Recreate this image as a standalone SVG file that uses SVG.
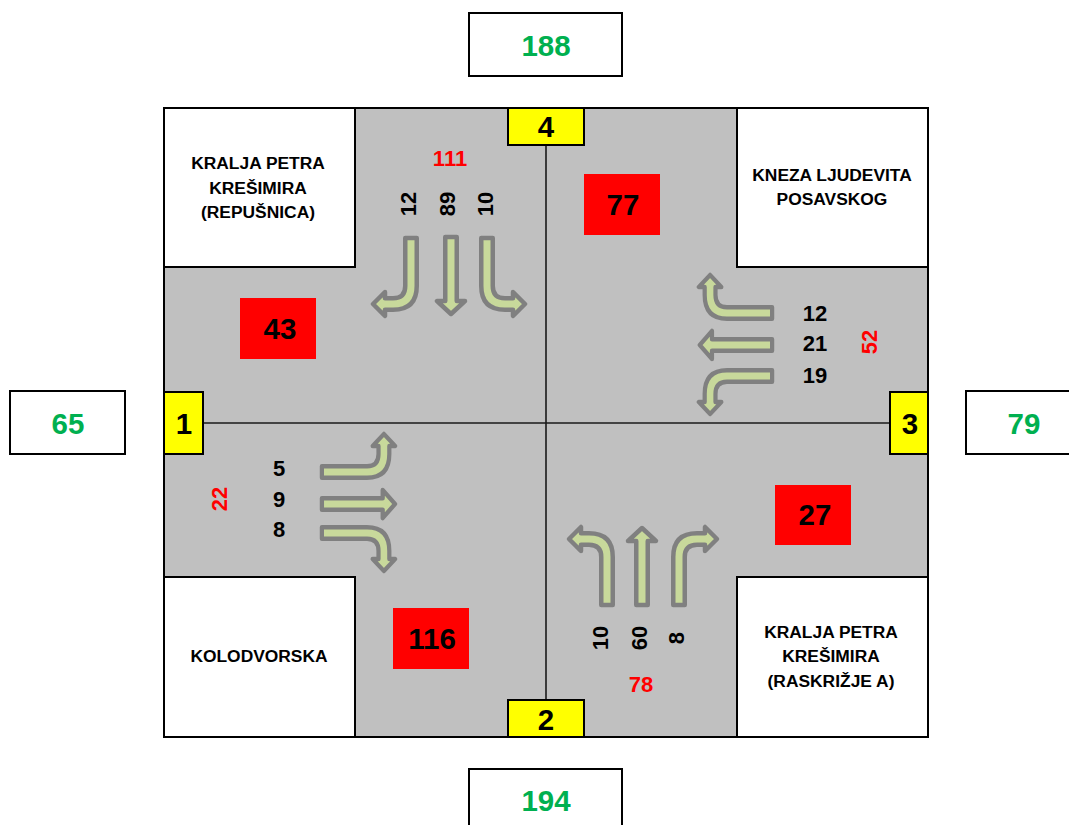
<svg xmlns="http://www.w3.org/2000/svg" width="1069" height="825" viewBox="0 0 1069 825">
<style>
text{font-family:"Liberation Sans",Arial,sans-serif;font-weight:bold;text-anchor:middle}
.box{fill:#fff;stroke:#000;stroke-width:2}
.sig{fill:#ff0;stroke:#000;stroke-width:2}
.red{fill:#f00}
.road{fill:#c0c0c0;stroke:#000;stroke-width:2}
.ln{stroke:#1a1a1a;stroke-width:1.6;fill:none}
.g{font-size:29.5px;fill:#00b050}
.n{font-size:29.5px;fill:#000}
.r{font-size:22px;fill:#f00}
.c{font-size:22px;fill:#000}
.l{font-size:17.4px;fill:#000}
.arr{fill:#c8d99b;stroke:#808080;stroke-width:4.5;stroke-linejoin:round}
</style>
<defs>
<path id="s" class="arr" d="M-5.75,2H5.75V66H14L0,79L-14,66H-5.75Z"/>
<path id="t" class="arr" d="M-5.75,2H5.75V50Q5.75,62.25 18,62.25H26V56L38,68L26,80V73.75H18Q-5.75,73.75 -5.75,50Z"/>
</defs>
<rect id="road" class="road" x="164" y="108" width="764" height="629"/>
<g id="connectors">
<path class="ln" d="M546,108V737M164,423H928"/>
<g id="arrows-north">
<use href="#t" transform="translate(411,236) scale(-1,1)"/>
<use href="#s" transform="translate(451,235)"/>
<use href="#t" transform="translate(487,236)"/>
</g>
<g id="arrows-south">
<use href="#t" transform="translate(607,607) rotate(180)"/>
<use href="#s" transform="translate(642,607) rotate(180)"/>
<use href="#t" transform="translate(679,607) rotate(180) scale(-1,1)"/>
</g>
<g id="arrows-west">
<use href="#t" transform="translate(320,472) rotate(-90) scale(1,.94)"/>
<use href="#s" transform="translate(320,504) rotate(-90) scale(1,.95)"/>
<use href="#t" transform="translate(320,533) rotate(-90) scale(-1,.94)"/>
</g>
<g id="arrows-east">
<use href="#t" transform="translate(774,313) rotate(90) scale(-1,.94)"/>
<use href="#s" transform="translate(774,345) rotate(90) scale(1,.94)"/>
<use href="#t" transform="translate(774,376) rotate(90) scale(1,.94)"/>
</g>
</g>
<g id="corner-nw"><rect class="box" x="164" y="108" width="191" height="159"/><text class="l" x="258" y="169">KRALJA PETRA</text><text class="l" x="258" y="194">KREŠIMIRA</text><text class="l" x="258" y="218">(REPUŠNICA)</text></g>
<g id="corner-ne"><rect class="box" x="737" y="108" width="191" height="159"/><text class="l" x="832" y="181">KNEZA LJUDEVITA</text><text class="l" x="832" y="205">POSAVSKOG</text></g>
<g id="corner-sw"><rect class="box" x="164" y="577" width="191" height="160"/><text class="l" x="259" y="662">KOLODVORSKA</text></g>
<g id="corner-se"><rect class="box" x="737" y="577" width="191" height="160"/><text class="l" x="831" y="638">KRALJA PETRA</text><text class="l" x="831" y="662">KREŠIMIRA</text><text class="l" x="831" y="687">(RASKRIŽJE A)</text></g>
<g id="signal-4"><rect class="sig" x="508" y="108" width="76" height="37"/><text class="n" x="546" y="137">4</text></g>
<g id="signal-2"><rect class="sig" x="508" y="700" width="76" height="37"/><text class="n" x="546" y="730">2</text></g>
<g id="signal-1"><rect class="sig" x="164" y="392" width="39" height="62"/><text class="n" x="184" y="434">1</text></g>
<g id="signal-3"><rect class="sig" x="890" y="392" width="38" height="62"/><text class="n" x="910" y="434">3</text></g>
<g id="total-n"><rect class="box" x="469" y="13" width="153" height="63"/><text class="g" x="546" y="56">188</text></g>
<g id="total-s"><rect class="box" x="469" y="769" width="153" height="63"/><text class="g" x="546" y="811">194</text></g>
<g id="total-w"><rect class="box" x="10" y="391" width="115" height="63"/><text class="g" x="68" y="434">65</text></g>
<g id="total-e"><rect class="box" x="966" y="391" width="115" height="63"/><text class="g" x="1024" y="434">79</text></g>
<g id="conflict-77"><rect class="red" x="584" y="174" width="76" height="61"/><text class="n" x="623" y="215">77</text></g>
<g id="conflict-43"><rect class="red" x="240" y="298" width="76" height="61"/><text class="n" x="280" y="339">43</text></g>
<g id="conflict-27"><rect class="red" x="775" y="485" width="76" height="60"/><text class="n" x="815" y="525">27</text></g>
<g id="conflict-116"><rect class="red" x="393" y="608" width="76" height="61"/><text class="n" x="432" y="649">116</text></g>
<g id="counts-north">
<text class="r" x="450" y="166">111</text>
<text class="c" transform="translate(416,204) rotate(-90)">12</text>
<text class="c" transform="translate(455,204) rotate(-90)">89</text>
<text class="c" transform="translate(493,204) rotate(-90)">10</text>
</g>
<g id="counts-south">
<text class="r" x="641" y="692">78</text>
<text class="c" transform="translate(608,638) rotate(-90)">10</text>
<text class="c" transform="translate(647,638) rotate(-90)">60</text>
<text class="c" transform="translate(684,638) rotate(-90)">8</text>
</g>
<g id="counts-west">
<text class="r" transform="translate(227,499) rotate(-90)">22</text>
<text class="c" x="279" y="476">5</text>
<text class="c" x="279" y="507">9</text>
<text class="c" x="279" y="537">8</text>
</g>
<g id="counts-east">
<text class="r" transform="translate(877,342) rotate(-90)">52</text>
<text class="c" x="815" y="321">12</text>
<text class="c" x="815" y="351">21</text>
<text class="c" x="815" y="383">19</text>
</g>
</svg>
